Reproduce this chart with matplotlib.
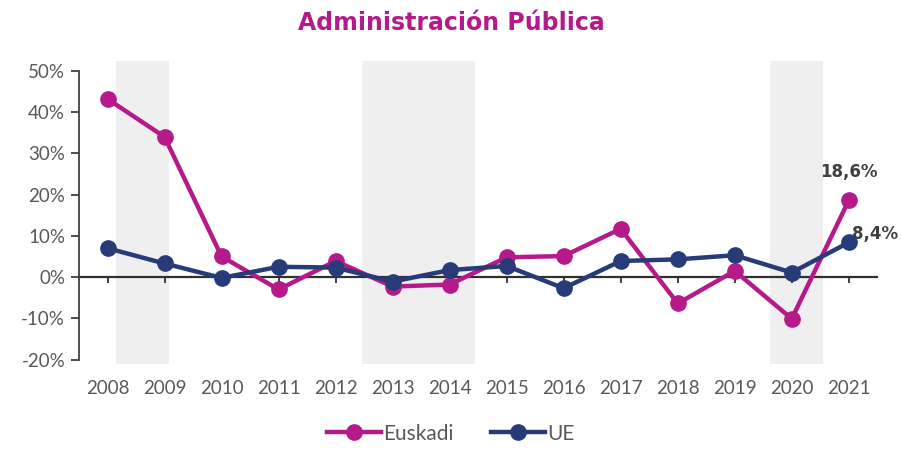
# Administración Pública - Euskadi vs UE, tasa de variación anual
import matplotlib.pyplot as plt
import numpy as np

# Data
years = ["2008", "2009", "2010", "2011", "2012", "2013", "2014",
         "2015", "2016", "2017", "2018", "2019", "2020", "2021"]
euskadi = [0.432, 0.340, 0.050, -0.030, 0.039, -0.023, -0.018,
           0.048, 0.051, 0.117, -0.064, 0.015, -0.101, 0.186]
ue = [0.070, 0.033, -0.002, 0.025, 0.023, -0.011, 0.017,
      0.027, -0.027, 0.039, 0.043, 0.053, 0.011, 0.084]
yticks = [-0.2, -0.1, 0.0, 0.1, 0.2, 0.3, 0.4, 0.5]
# shaded periods (start, end) in category units
bands = [(0.14, 1.07), (4.47, 6.44), (11.61, 12.54)]

col_eus = "#B5198A"
col_ue = "#263B78"
grey = "#595959"

x = np.arange(len(years))
ymin, ymax = -0.21, 0.525

fig = plt.figure(figsize=(9.02, 4.49), dpi=100)
ax = fig.add_axes([0.0876, 0.190, 0.885, 0.675])

for a, b in bands:
    ax.axvspan(a, b, color="#EFEFEF", lw=0, zorder=0)

ax.plot(x, euskadi, color=col_eus, lw=3.2, marker="o", ms=11, label="Euskadi", zorder=3)
ax.plot(x, ue, color=col_ue, lw=3.2, marker="o", ms=11, label="UE", zorder=4)

ax.set_xlim(-0.5, len(years) - 0.5)
ax.set_ylim(ymin, ymax)

# y axis
ax.set_yticks(yticks)
ax.set_yticklabels([f"{v*100:.0f}%" for v in yticks], fontsize=13.5, color=grey, family="Lato")
ax.spines["left"].set_bounds(-0.2, 0.5)
ax.spines["left"].set_color("#404040")
ax.spines["left"].set_linewidth(1.3)
ax.tick_params(axis="y", direction="out", length=6, width=1.3, color="#404040", pad=4)
for s in ["top", "right", "bottom"]:
    ax.spines[s].set_visible(False)

# x labels at the bottom, no ticks
ax.set_xticks(x)
ax.set_xticklabels(years, fontsize=13.5, color=grey, family="Lato")
ax.tick_params(axis="x", length=0, pad=12)

# zero line with small ticks
zero_pos = (0 - ymin) / (ymax - ymin)
sec = ax.secondary_xaxis(zero_pos)
sec.set_xticks(x)
sec.set_xticklabels([])
sec.spines["bottom"].set_color("#303030")
sec.spines["bottom"].set_linewidth(1.6)
sec.tick_params(direction="out", length=4, width=1.3, color="#303030")

# end labels
ax.annotate("18,6%", (x[-1], euskadi[-1]), xytext=(0, 14), textcoords="offset points",
            ha="center", va="bottom", fontsize=12, fontweight="bold", color="#404040")
ax.annotate("8,4%", (x[-1], ue[-1]), xytext=(19, 6), textcoords="offset points",
            ha="center", va="center", fontsize=12, fontweight="bold", color="#404040")

fig.suptitle("Administración Pública", x=0.5, y=0.975, fontsize=17,
             fontweight="bold", color=col_eus)

fig.legend(loc="lower center", bbox_to_anchor=(0.5, -0.03), ncol=2, frameon=False,
           handlelength=2.6, columnspacing=1.8, handletextpad=0.1,
           prop={"family": "Lato", "size": 15}, labelcolor=grey)

fig.savefig("out.png", dpi=100)
